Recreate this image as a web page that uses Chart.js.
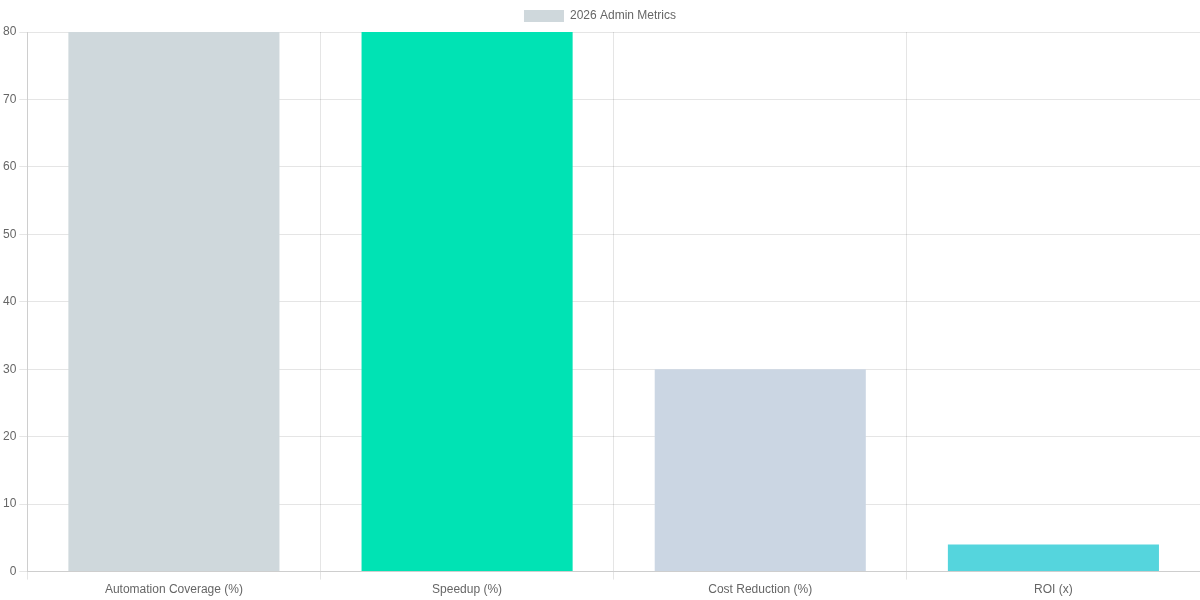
<!DOCTYPE html>
<html>
<head>
<meta charset="utf-8">
<script src="https://cdn.jsdelivr.net/npm/chart.js@4/dist/chart.umd.min.js"></script>
<style>
html,body{margin:0;padding:0;background:#fff;}
#wrap{width:1200px;height:600px;}
</style>
</head>
<body>
<div id="wrap"><canvas id="c"></canvas></div>
<script>
const categories = ["Automation Coverage (%)", "Speedup (%)", "Cost Reduction (%)", "ROI (x)"];
const seriesLabel = "2026 Admin Metrics";
const values = [80, 80, 30, 4];
const barColors = ["#CFD8DC", "#00E3B4", "#CBD6E3", "#55D5DD"];

new Chart(document.getElementById("c"), {
  type: "bar",
  data: {
    labels: categories,
    datasets: [{
      label: seriesLabel,
      data: values,
      backgroundColor: barColors
    }]
  },
  options: {
    responsive: true,
    maintainAspectRatio: false,
    animation: false,
    plugins: { legend: { display: true } },
    scales: {
      y: { beginAtZero: true, max: 80, ticks: { stepSize: 10 } }
    }
  }
});
</script>
</body>
</html>
